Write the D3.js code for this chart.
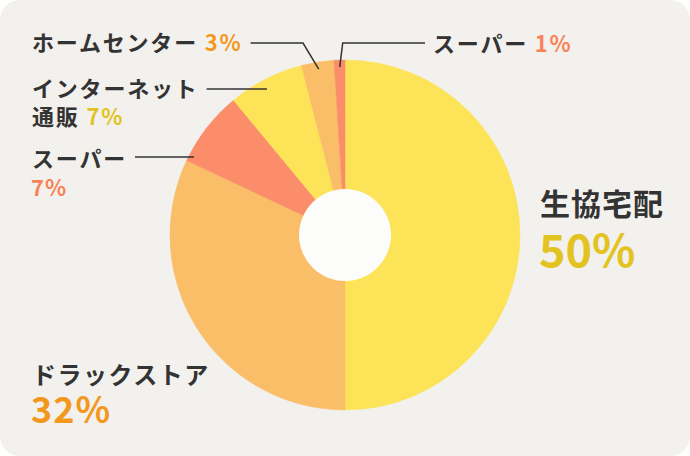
<!DOCTYPE html>
<html>
<head>
<meta charset="utf-8">
<script src="https://cdn.jsdelivr.net/npm/d3@7"></script>
<style>
  body { margin: 0; background: #fff; }
  text { font-family: "Noto Sans CJK JP", "Noto Sans", sans-serif; font-weight: 700; }
</style>
</head>
<body>
<svg id="canvas" width="690" height="456"></svg>
<script>
// shares, clockwise from 12 o'clock
let names = ['生協宅配', 'ドラックストア', 'スーパー', 'インターネット通販', 'ホームセンター', 'スーパー']
let shares = [50, 32, 7, 7, 3, 1]
let pctLabels = ['50%', '32%', '7%', '7%', '3%', '1%']

let width = 690
let height = 456
let cx = 345
let cy = 235
let radius = 175

let sliceColor = d3.scaleOrdinal().domain(d3.range(6))
    .range(['#fce358', '#fabd68', '#fb8d6a', '#fce358', '#fabd68', '#fb8d6a'])
let textColor = d3.scaleOrdinal().domain(d3.range(6))
    .range(['#e2c322', '#f3981f', '#f98358', '#e2c322', '#f3981f', '#f98358'])
let dark = '#333'

let canvas = d3.select('#canvas')

canvas.append('rect')
    .attr('width', width).attr('height', height)
    .attr('rx', 20).attr('fill', '#f3f1ed')

let pie = d3.pie().sort(null).value(d => d)
let arc = d3.arc().innerRadius(0).outerRadius(radius)
let arcs = pie(shares)

let g = canvas.append('g').attr('transform', `translate(${cx},${cy})`)

g.selectAll('path')
    .data(arcs)
    .enter()
    .append('path')
    .attr('d', arc)
    .attr('fill', (d, i) => sliceColor(i))
    .attr('stroke', (d, i) => sliceColor(i))
    .attr('stroke-width', 0.5)

g.append('circle').attr('r', 46).attr('fill', '#fcfcfa')

// point on the pie at radius r, angle a (radians from 12 o'clock)
let polar = (a, r) => [cx + r * Math.sin(a), cy - r * Math.cos(a)]
let midAngle = d => (d.startAngle + d.endAngle) / 2

// one text line made of a name part and a pct part
let addLine = (x, y, size, spacing, parts) => {
    let t = canvas.append('text')
        .attr('x', x).attr('y', y)
        .attr('font-size', size)
        .attr('letter-spacing', spacing)
    parts.forEach(p => {
        t.append('tspan').attr('fill', p.color).text(p.text)
    })
    return t
}

let leader = pts => {
    canvas.append('path')
        .attr('d', d3.line()(pts))
        .attr('fill', 'none')
        .attr('stroke', dark)
        .attr('stroke-width', 1.5)
}

// big labels
addLine(540, 215, 30, 1, [{text: names[0], color: dark}])
addLine(539, 267, 45, 0, [{text: pctLabels[0], color: textColor(0)}])
addLine(32, 384, 24, 1.5, [{text: names[1], color: dark}])
addLine(31, 423, 36, 1, [{text: pctLabels[1], color: textColor(1)}])

// ホームセンター
let t4 = addLine(32, 51, 22, 1.8, [{text: names[4] + ' ', color: dark}, {text: pctLabels[4], color: textColor(4)}])
let e4 = t4.node().getBBox()
let p4 = polar(midAngle(arcs[4]), 168)
leader([[e4.x + e4.width + 8, 43], [303, 43], p4])

// スーパー 1%
let t5 = addLine(433, 52, 22, 1.8, [{text: names[5] + ' ', color: dark}, {text: pctLabels[5], color: textColor(5)}])
let p5 = polar(midAngle(arcs[5]), 168)
leader([p5, [p5[0] + 3, 43], [425, 43]])

// インターネット通販
let t3 = addLine(32, 97, 22, 1.8, [{text: names[3].slice(0, 7), color: dark}])
addLine(32, 125, 22, 1.8, [{text: names[3].slice(7) + ' ', color: dark}, {text: pctLabels[3], color: textColor(3)}])
let e3 = t3.node().getBBox()
let y3 = 89
let x3 = cx - Math.sqrt(168 * 168 - (cy - y3) * (cy - y3))
leader([[e3.x + e3.width + 8, y3], [x3 + 5, y3]])

// スーパー 7%
let t2 = addLine(32, 167, 22, 1.8, [{text: names[2], color: dark}])
addLine(31, 196, 22, 1, [{text: pctLabels[2], color: textColor(2)}])
let e2 = t2.node().getBBox()
let y2 = 157
let x2 = cx - Math.sqrt(170 * 170 - (cy - y2) * (cy - y2))
leader([[e2.x + e2.width + 8, y2], [x2, y2]])
</script>
</body>
</html>
